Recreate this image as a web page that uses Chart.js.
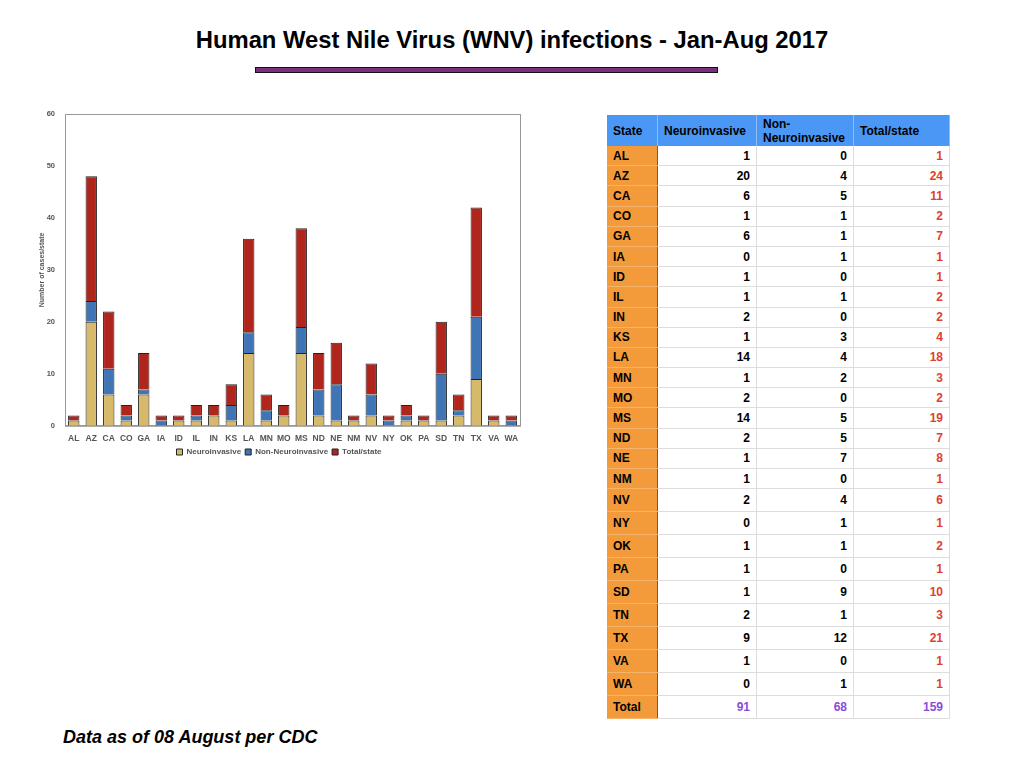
<!DOCTYPE html>
<html>
<head>
<meta charset="utf-8">
<script src="https://cdn.jsdelivr.net/npm/chart.js@4.4.0/dist/chart.umd.min.js"></script>
<style>
body { margin:0; width:1024px; height:768px; background:#fff; font-family:"Liberation Sans", Arial, sans-serif; position:relative; overflow:hidden; }
h1 { position:absolute; top:26px; left:0; width:1024px; text-align:center; font-size:23.8px; margin:0; color:#000; }
.rule { position:absolute; left:255px; top:67px; width:461px; height:4px; background:#7b2d7e; border:1px solid #111; }
#chartBox { position:absolute; left:30px; top:105px; width:495px; height:361px; }
table { position:absolute; left:607px; top:115px; width:343px; border-collapse:collapse; font-size:12px; font-weight:bold; color:#000; }
th { background:#4b97f6; text-align:left; padding:0 6px; height:31px; line-height:14px; font-weight:bold; border-right:1px solid #8fbdf7; }
td { height:19.2px; padding:0 6px; border-bottom:1px solid #ddd; border-right:1px solid #ddd; text-align:right; }
tbody tr:nth-child(n+18) td { height:22px; }
td.st { background:#f39b3a; text-align:left; border-right:1px solid #7a5a30; border-bottom:1px solid #f6b46a; }
td.tot { color:#e0402e; }
tr.sum td { color:#8a4bdb; }
tr.sum td.st { color:#000; }
.foot { position:absolute; left:63px; top:727px; font-size:18px; font-weight:bold; font-style:italic; }
</style>
</head>
<body>
<h1>Human West Nile Virus (WNV) infections - Jan-Aug 2017</h1>
<div class="rule"></div>
<div id="chartBox"><canvas id="wnvChart"></canvas></div>
<table id="wnvTable">
  <thead><tr><th style="width:38px">State</th><th style="width:86px">Neuroinvasive</th><th style="width:84px">Non-<br>Neuroinvasive</th><th>Total/state</th></tr></thead>
  <tbody></tbody>
</table>
<div class="foot">Data as of 08 August per CDC</div>
<script>
// 州ごとのデータ
var states = ['AL', 'AZ', 'CA', 'CO', 'GA', 'IA', 'ID', 'IL', 'IN', 'KS', 'LA', 'MN', 'MO', 'MS', 'ND', 'NE', 'NM', 'NV', 'NY', 'OK', 'PA', 'SD', 'TN', 'TX', 'VA', 'WA'];
var neuro    = [1, 20, 6, 1, 6, 0, 1, 1, 2, 1, 14, 1, 2, 14, 2, 1, 1, 2, 0, 1, 1, 1, 2, 9, 1, 0];
var nonNeuro = [0, 4, 5, 1, 1, 1, 0, 1, 0, 3, 4, 2, 0, 5, 5, 7, 0, 4, 1, 1, 0, 9, 1, 12, 0, 1];
var totals   = [1, 24, 11, 2, 7, 1, 1, 2, 2, 4, 18, 3, 2, 19, 7, 8, 1, 6, 1, 2, 1, 10, 3, 21, 1, 1];
var yTicks   = [0, 10, 20, 30, 40, 50, 60];

// テーブル作成
var tbody = document.querySelector('#wnvTable tbody');
var rows = '';
states.forEach(function (s, i) {
    rows += '<tr><td class="st">' + s + '</td><td>' + neuro[i] + '</td><td>' + nonNeuro[i] + '</td><td class="tot">' + totals[i] + '</td></tr>';
});
function sum(a) { return a.reduce(function (x, y) { return x + y; }, 0); }
rows += '<tr class="sum"><td class="st">Total</td><td>' + sum(neuro) + '</td><td>' + sum(nonNeuro) + '</td><td>' + sum(totals) + '</td></tr>';
tbody.innerHTML = rows;

// プロット枠
var frame = {
    id: 'frame',
    afterDatasetsDraw: function (chart) {
        var a = chart.chartArea, c = chart.ctx;
        c.save();
        c.strokeStyle = '#999';
        c.lineWidth = 1;
        c.strokeRect(a.left + 0.5, a.top + 0.5, a.right - a.left, a.bottom - a.top);
        c.restore();
    }
};

var ctx = document.getElementById('wnvChart').getContext('2d');
var wnvChart = new Chart(ctx, {
    type: 'bar',
    data: {
        labels: states,
        datasets: [
            { label: 'Neuroinvasive', data: neuro, backgroundColor: '#d6b96a' },
            { label: 'Non-Neuroinvasive', data: nonNeuro, backgroundColor: '#3f74b5' },
            { label: 'Total/state', data: totals, backgroundColor: '#b0261c' }
        ]
    },
    options: {
        responsive: true,
        maintainAspectRatio: false,
        animation: false,
        layout: { padding: { top: 9, right: 5, left: 8, bottom: 0 } },
        datasets: { bar: { borderColor: '#222', borderWidth: 1, categoryPercentage: 0.65, barPercentage: 1 } },
        plugins: {
            legend: {
                position: 'bottom',
                labels: { boxWidth: 6, boxHeight: 6, padding: 4, color: '#555', font: { size: 8, weight: 'bold', family: 'Liberation Sans' } }
            },
            tooltip: { enabled: false }
        },
        scales: {
            x: {
                stacked: true,
                grid: { display: false },
                border: { color: '#999' },
                ticks: { color: '#555', font: { size: 8.5, weight: 'bold', family: 'Liberation Sans' }, maxRotation: 0, autoSkip: false, padding: 0 }
            },
            y: {
                stacked: true,
                min: 0, max: 60,
                grid: { display: false },
                border: { color: '#999' },
                afterFit: function (scale) { scale.width = 27; },
                afterBuildTicks: function (scale) { scale.ticks = yTicks.map(function (v) { return { value: v }; }); },
                ticks: { color: '#555', font: { size: 7.5, weight: 'bold', family: 'Liberation Sans' }, padding: 2 },
                title: { display: true, text: 'Number of cases/state', color: '#555', font: { size: 7, weight: 'bold', family: 'Liberation Sans' }, padding: 0 }
            }
        }
    },
    plugins: [frame]
});
</script>
</body>
</html>
